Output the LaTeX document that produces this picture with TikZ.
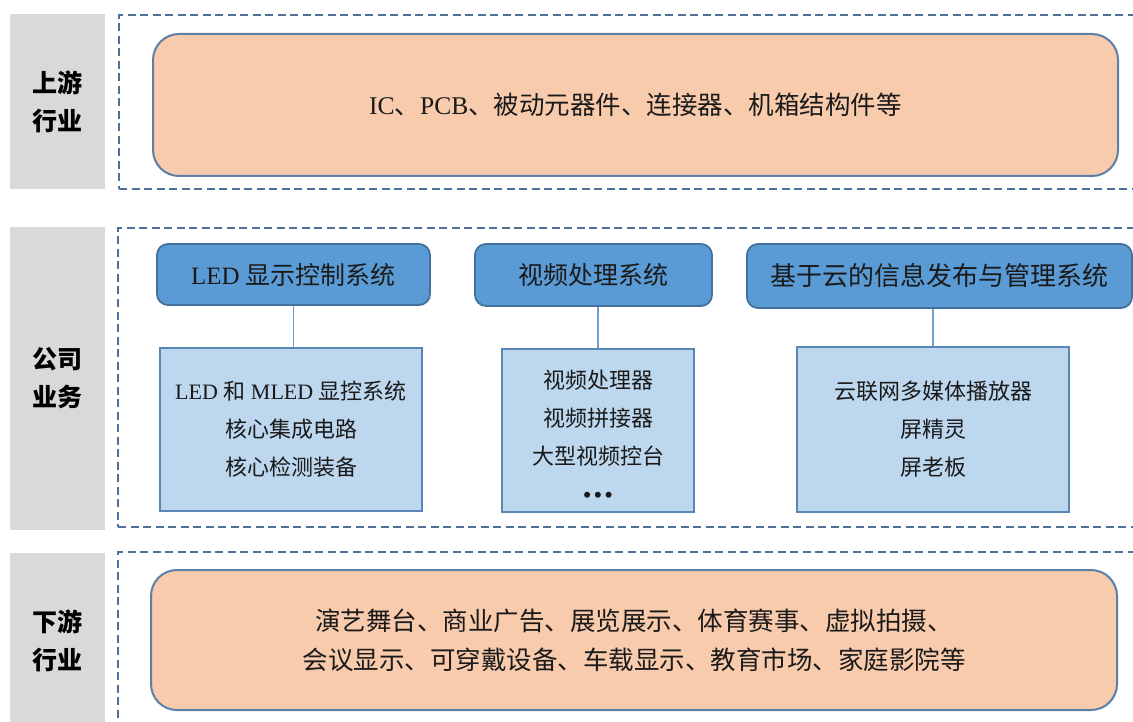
\documentclass[tikz,border=0pt]{standalone}
\usepackage{fontspec}
\setmainfont{Liberation Serif}
\newfontfamily\cjk{Noto Sans CJK SC}
\definecolor{graybg}{HTML}{D9D9D9}
\definecolor{dashc}{HTML}{4C7098}
\definecolor{orangef}{HTML}{F8CBAD}
\definecolor{orangeb}{HTML}{5B7FA6}
\definecolor{headf}{HTML}{5B9BD5}
\definecolor{headb}{HTML}{41719C}
\definecolor{lightf}{HTML}{BDD7EE}
\definecolor{lightb}{HTML}{5A86B4}
\definecolor{linkc}{HTML}{6F9ECF}
\definecolor{txt}{HTML}{1A1A1A}
\tikzset{
  graylabel/.style={fill=graybg, draw=none, inner sep=0pt, align=center,
    font=\cjk\bfseries\fontsize{25}{38}\selectfont, text=black},
  dashframe/.style={draw=dashc, line width=2.4pt, dash pattern=on 8pt off 4.5pt, inner sep=0pt},
  orangebox/.style={fill=orangef, draw=orangeb, line width=2pt, rounded corners=26pt,
    inner sep=0pt, align=center, text=txt, font=\fontsize{25.5}{39}\selectfont},
  headbox/.style={fill=headf, draw=headb, line width=1.8pt, rounded corners=11pt,
    inner sep=0pt, align=center, text=txt, font=\fontsize{25}{30}\selectfont},
  lightbox/.style={fill=lightf, draw=lightb, line width=1.8pt,
    inner sep=0pt, align=center, text=txt, font=\fontsize{22}{38}\selectfont},
  link/.style={draw=linkc, line width=1.8pt}
}
\begin{document}
\begin{tikzpicture}[x=1pt,y=-1pt]
\useasboundingbox (0,0) rectangle (1133,722);
\clip (0,0) rectangle (1133,722);
% gray labels
\node[graylabel, minimum width=95pt, minimum height=175pt] (g1) at (57.5,101.5) {上游\\行业};
\node[graylabel, minimum width=95pt, minimum height=303pt] (g2) at (57.5,378.5) {公司\\业务};
\node[graylabel, minimum width=95pt, minimum height=194pt] (g3) at (57.5,650) {};
\node[font=\cjk\bfseries\fontsize{25}{38}\selectfont, align=center, inner sep=0pt] (g3t) at (57.5,641) {下游\\行业};
% dashed frames
\node[dashframe, minimum width=1040pt, minimum height=174pt] (d1) at (639,102) {};
\node[dashframe, minimum width=1040pt, minimum height=299pt] (d2) at (638,377.5) {};
\node[dashframe, minimum width=1040pt, minimum height=200pt] (d3) at (638,652) {};
% upstream
\node[orangebox, minimum width=965pt, minimum height=142pt] (o1) at (635.5,105)
  {IC{\cjk 、}PCB{\cjk 、被动元器件、连接器、机箱结构件等}};
% headings
\node[headbox, minimum width=273pt, minimum height=61pt] (h1) at (293.5,274.5) {LED {\cjk 显示控制系统}};
\node[headbox, minimum width=237pt, minimum height=62pt] (h2) at (593.5,275) {\cjk 视频处理系统};
\node[headbox, minimum width=385pt, minimum height=64pt, font=\fontsize{26}{30}\selectfont] (h3) at (939.5,276) {\cjk 基于云的信息发布与管理系统};
% detail boxes
\node[lightbox, minimum width=262pt, minimum height=163pt] (b1) at (291,429.5)
  {LED {\cjk 和} MLED {\cjk 显控系统}\\{\cjk 核心集成电路}\\{\cjk 核心检测装备}};
\node[lightbox, minimum width=192pt, minimum height=163pt] (b2) at (598,430.5) {};
\node[font=\fontsize{22}{38}\selectfont, align=center, inner sep=0pt, text=txt] (b2t) at (598,436.5)
  {{\cjk 视频处理器}\\{\cjk 视频拼接器}\\{\cjk 大型视频控台}\\{\bfseries •\hspace{3pt}•\hspace{3pt}•}};
\node[lightbox, minimum width=272pt, minimum height=165pt] (b3) at (933,429.5)
  {{\cjk 云联网多媒体播放器}\\{\cjk 屏精灵}\\{\cjk 屏老板}};
% connectors
\draw[link] (h1.south) -- (h1.south |- b1.north);
\draw[link] (h2.south -| b2.north) -- (b2.north);
\draw[link] (h3.south -| b3.north) -- (b3.north);
% downstream
\node[orangebox, minimum width=966pt, minimum height=140pt] (o2) at (634,640)
  {\cjk 演艺舞台、商业广告、展览展示、体育赛事、虚拟拍摄、\\\cjk 会议显示、可穿戴设备、车载显示、教育市场、家庭影院等};
\end{tikzpicture}
\end{document}
